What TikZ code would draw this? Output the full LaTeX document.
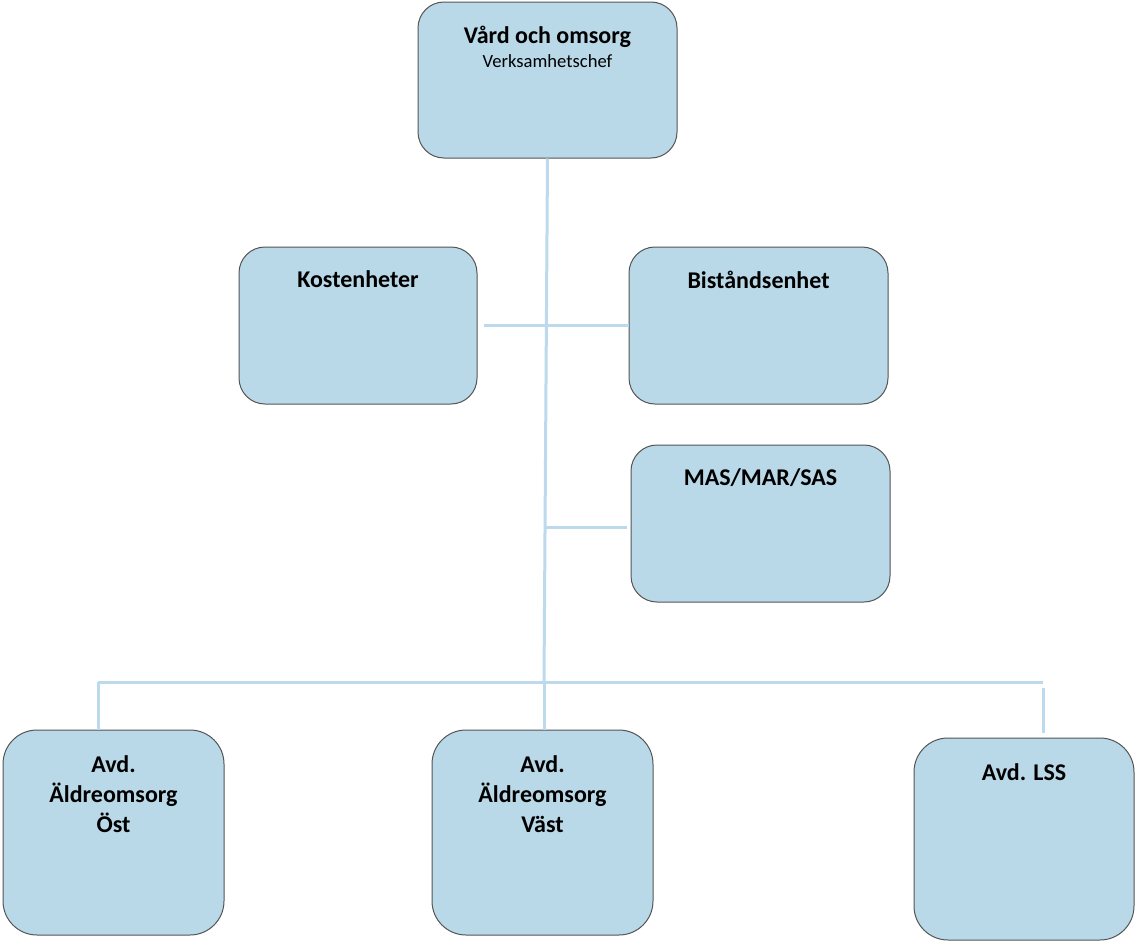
\documentclass[tikz,border=0pt]{standalone}
\usepackage{fontspec}
\setmainfont{Carlito}
\usetikzlibrary{positioning}
\definecolor{boxfill}{RGB}{185,216,232}
\definecolor{linkblue}{RGB}{188,218,236}
\definecolor{boxline}{RGB}{85,85,85}

\begin{document}
\begin{tikzpicture}[
x=0.5pt, y=-0.5pt,
unit/.style={rectangle, draw=boxline, fill=boxfill, line width=0.5pt, rounded corners=13pt, minimum width=129.5pt, minimum height=78.5pt, inner sep=0pt},
bigunit/.style={unit, rounded corners=17pt, minimum width=110.5pt, minimum height=102.5pt},
title/.style={anchor=north, inner sep=0pt, align=center, font=\fontsize{12}{15}\selectfont\bfseries},
link/.style={draw=linkblue, line width=1.5pt},
]
\useasboundingbox (0,0) rectangle (1136,942);
%Nodes
\node[unit, minimum height=78pt]           (top)  at (547.5,80)   {};
\node[unit, minimum width=119pt]           (kost) at (358,325.5)  {};
\node[unit]                                (bist) at (758.5,325.5) {};
\node[unit]                                (mas)  at (760.5,523.5) {};
\node[bigunit]                             (ost)  at (113.5,832.5) {};
\node[bigunit]                             (vast) at (542.5,832.5) {};
\node[bigunit, minimum width=110pt, minimum height=101pt] (lss) at (1024,839) {};

%Titles
\node[title] (topT)  [below=12pt of top.north]  {Vård och omsorg\\[-3pt]{\fontsize{9.3}{11}\selectfont\mdseries Verksamhetschef}};
\node[title] (kostT) [below=12pt of kost.north] {Kostenheter};
\node[title] (bistT) [below=12pt of bist.north] {Biståndsenhet};
\node[title] (masT)  [below=12pt of mas.north]  {MAS/MAR/SAS};
\node[title] (ostT)  [below=13pt of ost.north]  {Avd.\\Äldreomsorg\\Öst};
\node[title] (vastT) [below=13pt of vast.north] {Avd.\\Äldreomsorg\\Väst};
\node[title] (lssT)  [below=13pt of lss.north]  {Avd. LSS};

\coordinate (bus)  at (544,682);
\coordinate (busL) at (98,682);
\coordinate (busR) at (1043,682);

%Lines
\draw[link] (top.south) -- (bus);
\draw[link, shorten <=3pt] (kost.east) -- (bist.west);
\draw[link, shorten <=2pt] (mas.west) ++(0,3.5) -- (bus |- 0,527);
\draw[link] (busL) -- (busR);
\draw[link] (busL) -- (busL |- ost.north);
\draw[link] (bus) -- (bus |- vast.north);
\draw[link, shorten <=3pt, shorten >=2.5pt] (busR) -- (busR |- lss.north);
\end{tikzpicture}
\end{document}
